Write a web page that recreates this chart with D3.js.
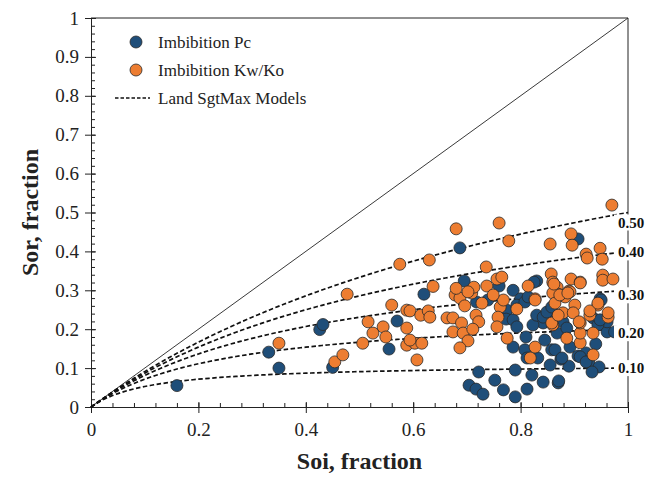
<!DOCTYPE html>
<html>
<head>
<meta charset="utf-8">
<script src="https://cdn.jsdelivr.net/npm/d3@7"></script>
<style>
  html, body { margin: 0; padding: 0; background: #fff; overflow: hidden; }
  svg { display: block; }
  text { font-family: "Liberation Serif", "DejaVu Serif", serif; }
</style>
</head>
<body>
<svg id="chart"></svg>
<script>
// Imbibition Pc points [Soi, Sor]
const pcPoints = [
  [0.16,0.055],[0.331,0.141],[0.35,0.10],[0.426,0.199],[0.432,0.212],[0.45,0.102],
  [0.555,0.149],[0.57,0.221],[0.62,0.29],[0.687,0.409],[0.695,0.324],[0.76,0.311],
  [0.786,0.30],[0.83,0.324],[0.825,0.321],[0.907,0.432],[0.948,0.278],[0.80,0.278],
  [0.718,0.27],[0.739,0.275],[0.774,0.249],[0.773,0.226],[0.786,0.224],[0.786,0.154],
  [0.722,0.09],[0.79,0.095],[0.704,0.056],[0.717,0.046],[0.73,0.033],[0.752,0.069],
  [0.768,0.044],[0.79,0.026],[0.821,0.082],[0.812,0.046],[0.842,0.064],[0.87,0.062],
  [0.871,0.067],[0.855,0.108],[0.89,0.105],[0.927,0.113],[0.946,0.103],[0.875,0.123],
  [0.907,0.131],[0.94,0.162],[0.858,0.147],[0.808,0.147],[0.81,0.18],[0.845,0.172],
  [0.892,0.154],[0.922,0.139],[0.868,0.19],[0.961,0.193],[0.842,0.216],[0.823,0.211],
  [0.793,0.206],[0.83,0.236],[0.851,0.234],[0.879,0.219],[0.886,0.203],[0.935,0.229],
  [0.961,0.219],[0.944,0.211],[0.793,0.262],[0.808,0.27],[0.814,0.283],[0.842,0.231],
  [0.849,0.244],[0.858,0.257],[0.948,0.224],[0.95,0.275],[0.933,0.09],[0.812,0.126],
  [0.832,0.126],[0.864,0.147],[0.877,0.126],[0.911,0.129],[0.922,0.116],[0.975,0.193]
];

// Imbibition Kw/Ko points [Soi, Sor]
const kwkoPoints = [
  [0.35,0.164],[0.454,0.116],[0.469,0.134],[0.477,0.29],[0.506,0.164],[0.516,0.219],
  [0.525,0.19],[0.544,0.206],[0.549,0.18],[0.56,0.262],[0.575,0.367],[0.588,0.249],
  [0.588,0.203],[0.588,0.159],[0.594,0.247],[0.614,0.236],[0.628,0.247],[0.631,0.231],
  [0.63,0.378],[0.637,0.31],[0.603,0.164],[0.616,0.164],[0.594,0.172],[0.607,0.121],
  [0.663,0.229],[0.674,0.229],[0.69,0.216],[0.717,0.236],[0.722,0.219],[0.674,0.193],
  [0.693,0.19],[0.711,0.2],[0.702,0.17],[0.687,0.152],[0.678,0.288],[0.687,0.28],
  [0.709,0.293],[0.728,0.267],[0.762,0.257],[0.768,0.275],[0.758,0.231],[0.696,0.26],
  [0.775,0.177],[0.756,0.206],[0.68,0.458],[0.76,0.473],[0.778,0.427],[0.736,0.36],
  [0.68,0.305],[0.713,0.308],[0.737,0.311],[0.756,0.329],[0.765,0.334],[0.749,0.288],
  [0.702,0.296],[0.97,0.519],[0.855,0.419],[0.894,0.445],[0.896,0.416],[0.922,0.393],
  [0.924,0.383],[0.948,0.408],[0.952,0.38],[0.857,0.342],[0.814,0.311],[0.86,0.321],
  [0.868,0.308],[0.894,0.329],[0.911,0.321],[0.953,0.339],[0.953,0.326],[0.972,0.329],
  [0.89,0.298],[0.87,0.29],[0.827,0.278],[0.818,0.126],[0.827,0.154],[0.886,0.177],
  [0.911,0.165],[0.86,0.211],[0.911,0.19],[0.935,0.19],[0.911,0.216],[0.858,0.216],
  [0.929,0.236],[0.963,0.231],[0.793,0.252],[0.827,0.275],[0.86,0.293],[0.883,0.283],
  [0.892,0.296],[0.901,0.262],[0.879,0.242],[0.898,0.242],[0.909,0.219],[0.944,0.262],
  [0.929,0.247],[0.963,0.242],[0.87,0.236],[0.864,0.267],[0.862,0.316],[0.911,0.319],
  [0.873,0.288],[0.888,0.293],[0.944,0.267],[0.935,0.134]
];

// Land model trapping curves, Sor at Soi = 1
const sgtMax = [0.10, 0.20, 0.30, 0.40, 0.50];
const sgtLabels = ["0.10", "0.20", "0.30", "0.40", "0.50"];

const xTicks = [0, 0.2, 0.4, 0.6, 0.8, 1];
const yTicks = [0, 0.1, 0.2, 0.3, 0.4, 0.5, 0.6, 0.7, 0.8, 0.9, 1];

const legendItems = ["Imbibition Pc", "Imbibition Kw/Ko", "Land SgtMax Models"];

const width = 660, height = 477;
const margin = { top: 18, right: 32, bottom: 70, left: 91 };
const innerWidth = width - margin.left - margin.right;
const innerHeight = height - margin.top - margin.bottom;

const blue = "#1f4e79", orange = "#ed7d31";
const serif = '"Liberation Serif", "DejaVu Serif", serif';

const svg = d3.select("#chart").attr("width", width).attr("height", height);
const g = svg.append("g").attr("transform", `translate(${margin.left},${margin.top})`);

const x = d3.scaleLinear().domain([0, 1]).range([0, innerWidth]);
const y = d3.scaleLinear().domain([0, 1]).range([innerHeight, 0]);

const fmt = (d) => (d === 0 || d === 1 ? String(d) : d.toFixed(1));

// frame (top + right)
g.append("path")
  .attr("d", `M0,0H${innerWidth}V${innerHeight}`)
  .attr("fill", "none")
  .attr("stroke", "#222")
  .attr("stroke-width", 1);

// minor ticks (no labels)
const xMinor = g.append("g")
  .attr("transform", `translate(0,${innerHeight})`)
  .call(d3.axisBottom(x).tickValues(d3.range(0, 1.001, 0.04)).tickSize(-4).tickFormat(""));
xMinor.select(".domain").remove();
xMinor.selectAll("text").remove();
xMinor.selectAll("line").attr("stroke", "#222");

const yMinor = g.append("g")
  .call(d3.axisLeft(y).tickValues(d3.range(0, 1.001, 0.02)).tickSize(-4).tickFormat(""));
yMinor.select(".domain").remove();
yMinor.selectAll("text").remove();
yMinor.selectAll("line").attr("stroke", "#222");

// major axes
const xAxis = g.append("g")
  .attr("transform", `translate(0,${innerHeight})`)
  .call(d3.axisBottom(x).tickValues(xTicks).tickSize(6).tickPadding(10).tickFormat(fmt));
xAxis.selectAll(".tick line").attr("y1", -5).attr("stroke", "#222");
xAxis.select(".domain").attr("stroke", "#222");
xAxis.selectAll("text").attr("font-size", 19).attr("fill", "#222").style("font-family", serif);

const yAxis = g.append("g")
  .call(d3.axisLeft(y).tickValues(yTicks).tickSize(6).tickPadding(6).tickFormat(fmt));
yAxis.selectAll(".tick line").attr("x1", 5).attr("stroke", "#222");
yAxis.select(".domain").attr("stroke", "#222");
yAxis.selectAll("text").attr("font-size", 19).attr("fill", "#222").style("font-family", serif);

// 1:1 line
g.append("line")
  .attr("x1", x(0)).attr("y1", y(0))
  .attr("x2", x(1)).attr("y2", y(1))
  .attr("stroke", "#222").attr("stroke-width", 0.9);

// Land curves: Sor = Soi / (1 + C*Soi), C = 1/SorMax - 1
const soiGrid = d3.range(0, 1.0001, 0.01);
const landLine = d3.line().x((d) => x(d[0])).y((d) => y(d[1]));
sgtMax.forEach((s) => {
  const C = 1 / s - 1;
  g.append("path")
    .datum(soiGrid.map((v) => [v, v / (1 + C * v)]))
    .attr("d", landLine)
    .attr("fill", "none")
    .attr("stroke", "#111")
    .attr("stroke-width", 1.7)
    .attr("stroke-dasharray", "4.5,2.5");
});

// scatter
const marker = (sel, data, color) =>
  sel.selectAll(null)
    .data(data)
    .join("circle")
    .attr("cx", (d) => x(d[0]))
    .attr("cy", (d) => y(d[1]))
    .attr("r", 6)
    .attr("fill", color)
    .attr("stroke", "#2a2a2a")
    .attr("stroke-width", 0.8);

marker(g.append("g"), pcPoints, blue);
marker(g.append("g"), kwkoPoints, orange);

// curve labels with white boxes
const nudge = [0, 4, 5, 1, 10];
sgtMax.forEach((s, i) => {
  const cy = y(s) + nudge[i];
  const lg = g.append("g").attr("transform", `translate(${x(1) - 14},${cy})`);
  lg.append("rect").attr("x", 0).attr("y", -8).attr("width", 36).attr("height", 16).attr("fill", "#fff");
  lg.append("text")
    .attr("x", 4).attr("y", 5)
    .attr("font-size", 15).attr("font-weight", "bold").attr("fill", "#111")
    .style("font-family", serif)
    .text(sgtLabels[i]);
});

// legend
const leg = svg.append("g").attr("transform", "translate(136,42)");
[blue, orange].forEach((c, i) => {
  leg.append("circle").attr("cx", 0).attr("cy", i * 28).attr("r", 6)
    .attr("fill", c).attr("stroke", "#2a2a2a").attr("stroke-width", 0.8);
});
leg.append("line").attr("x1", -21).attr("x2", 14).attr("y1", 56).attr("y2", 56)
  .attr("stroke", "#111").attr("stroke-width", 1.4).attr("stroke-dasharray", "3.5,2");
legendItems.forEach((t, i) => {
  leg.append("text").attr("x", 22).attr("y", i * 28 + 6)
    .attr("font-size", 17).attr("fill", "#222")
    .style("font-family", serif)
    .text(t);
});

// axis titles
svg.append("text")
  .attr("x", margin.left + innerWidth / 2).attr("y", 469)
  .attr("text-anchor", "middle")
  .attr("font-size", 24).attr("font-weight", "bold").attr("fill", "#222")
  .style("font-family", serif)
  .text("Soi, fraction");

svg.append("text")
  .attr("transform", `translate(38,${margin.top + innerHeight / 2}) rotate(-90)`)
  .attr("text-anchor", "middle")
  .attr("font-size", 24).attr("font-weight", "bold").attr("fill", "#222")
  .style("font-family", serif)
  .text("Sor, fraction");
</script>
</body>
</html>
